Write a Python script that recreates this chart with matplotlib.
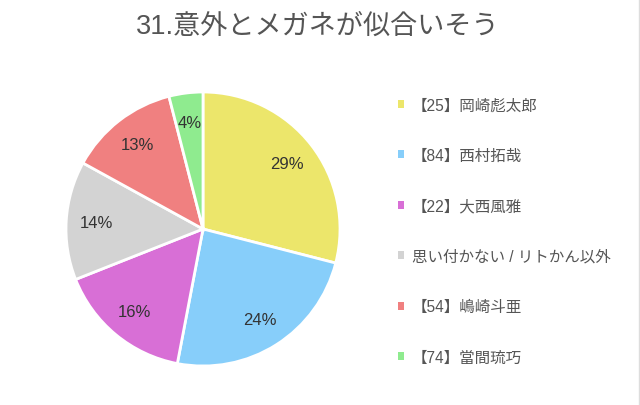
import matplotlib
matplotlib.use('Agg')
import matplotlib.pyplot as plt
from matplotlib.patches import Patch
from matplotlib.lines import Line2D

plt.rcParams['font.family'] = ['Liberation Sans', 'Noto Sans CJK JP', 'DejaVu Sans']

title = '31.意外とメガネが似合いそう'
labels = ['【25】岡崎彪太郎', '【84】西村拓哉', '【22】大西風雅',
          '思い付かない / リトかん以外', '【54】嶋崎斗亜', '【74】當間琉巧']
values = [29, 24, 16, 14, 13, 4]
colors = ['#ECE66B', '#87CEFA', '#D86FD6', '#D3D3D3', '#F08080', '#8FEB8F']

fig = plt.figure(figsize=(6.4, 4.06), dpi=100)
fig.patch.set_facecolor('white')

# pie: centre (203,230) px, radius 137 px
ax = fig.add_axes([(203 - 137) / 640, (176 - 137) / 406, 274 / 640, 274 / 406])
wedges, texts, autotexts = ax.pie(values, colors=colors, startangle=90, counterclock=False,
                                  autopct='%d%%', pctdistance=0.78,
                                  wedgeprops=dict(edgecolor='white', linewidth=2),
                                  textprops=dict(fontsize=12, color='#333333'))
for w in wedges:
    w.set_clip_on(False)
ax.set_xlim(-1, 1)
ax.set_ylim(-1, 1)
ax.set_aspect('equal')
ax.axis('off')

fig.text(0.496, 0.933, title, ha='center', va='center', fontsize=19.5, color='#555555')

handles = [Patch(facecolor=c, edgecolor='none') for c in colors]
leg = fig.legend(handles, labels, loc='upper left', bbox_to_anchor=(0.612, 0.773),
                 frameon=False, fontsize=11.2, handlelength=0.4, handleheight=0.4,
                 handletextpad=0.5, labelspacing=2.28, borderaxespad=0)
for t in leg.get_texts():
    t.set_color('#555555')

fig.add_artist(Line2D([638.5 / 640, 638.5 / 640], [0, 1], color='#dddddd', linewidth=1))

fig.savefig('out.png', dpi=100)
